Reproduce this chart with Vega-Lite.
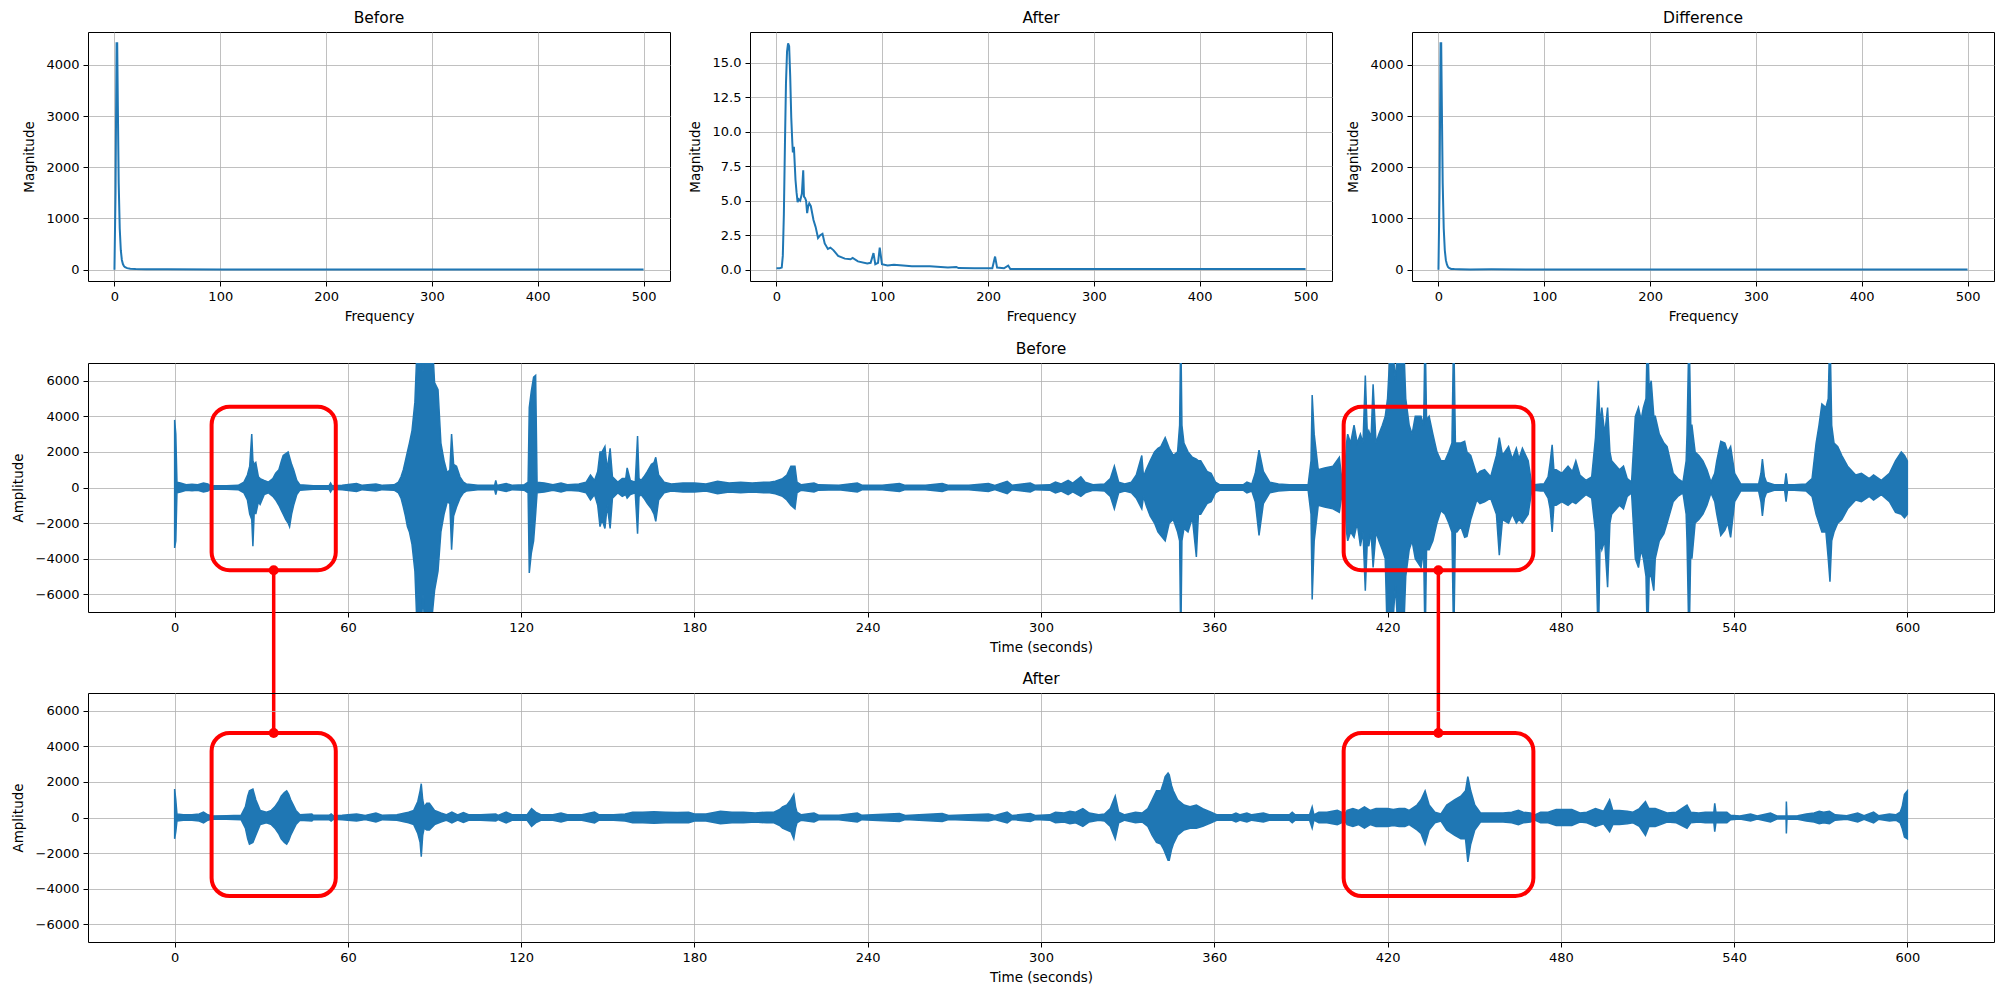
{
"$schema": "https://vega.github.io/schema/vega-lite/v6.json",
"padding": {"left": 10, "top": 10, "right": 5, "bottom": 5},
"background": "white",
"datasets": {
"beforeFFT": [{"f":0,"m":0},{"f":1,"m":1500},{"f":2,"m":4420},{"f":2.6,"m":4420},{"f":3.2,"m":3200},{"f":4,"m":1700},{"f":5,"m":800},{"f":6,"m":380},{"f":7,"m":190},{"f":8,"m":110},{"f":9,"m":70},{"f":10,"m":50},{"f":12,"m":30},{"f":15,"m":20},{"f":20,"m":14},{"f":30,"m":10},{"f":50,"m":8},{"f":100,"m":6},{"f":200,"m":4},{"f":300,"m":3},{"f":400,"m":3},{"f":500,"m":3}],
"afterFFT": [{"f":0,"m":0.1},{"f":3,"m":0.1},{"f":5,"m":0.15},{"f":6,"m":1.0},{"f":7,"m":4},{"f":8,"m":9},{"f":9,"m":13.5},{"f":10,"m":15.8},{"f":11,"m":16.4},{"f":12,"m":16.2},{"f":13,"m":14},{"f":14,"m":11},{"f":15,"m":9.2},{"f":15.5,"m":8.5},{"f":16.5,"m":8.9},{"f":18,"m":6.5},{"f":19,"m":5.6},{"f":20,"m":4.9},{"f":21,"m":5.1},{"f":22.4,"m":5.0},{"f":24,"m":5.5},{"f":25.3,"m":7.2},{"f":26,"m":5.3},{"f":27,"m":5.2},{"f":28,"m":5.0},{"f":29,"m":4.1},{"f":30,"m":4.6},{"f":31,"m":4.8},{"f":32.5,"m":4.6},{"f":35,"m":3.6},{"f":37,"m":3.1},{"f":39.3,"m":2.3},{"f":41.4,"m":2.5},{"f":43.5,"m":2.6},{"f":45.6,"m":1.9},{"f":48.6,"m":1.5},{"f":51,"m":1.6},{"f":54,"m":1.4},{"f":58.3,"m":1.0},{"f":64.6,"m":0.8},{"f":70,"m":0.75},{"f":72,"m":0.85},{"f":77,"m":0.6},{"f":85.8,"m":0.45},{"f":89,"m":0.5},{"f":91.7,"m":1.2},{"f":93.4,"m":0.4},{"f":96,"m":0.5},{"f":97.6,"m":1.6},{"f":99.7,"m":0.4},{"f":105,"m":0.3},{"f":111,"m":0.35},{"f":119.6,"m":0.3},{"f":128,"m":0.25},{"f":145,"m":0.25},{"f":162,"m":0.15},{"f":170,"m":0.2},{"f":172,"m":0.12},{"f":187,"m":0.1},{"f":204,"m":0.1},{"f":206.6,"m":0.95},{"f":208.5,"m":0.15},{"f":215,"m":0.1},{"f":219,"m":0.3},{"f":221,"m":0.05},{"f":250,"m":0.05},{"f":300,"m":0.05},{"f":500,"m":0.05}],
"diffFFT": [{"f":0,"m":0},{"f":1,"m":1500},{"f":2,"m":4420},{"f":2.6,"m":4420},{"f":3.2,"m":3200},{"f":4,"m":1700},{"f":5,"m":800},{"f":6,"m":379},{"f":7,"m":186},{"f":8,"m":101},{"f":9,"m":56},{"f":10,"m":34},{"f":12,"m":14},{"f":15,"m":11},{"f":20,"m":9},{"f":30,"m":5.4},{"f":50,"m":6.4},{"f":100,"m":5.6},{"f":200,"m":3.9},{"f":300,"m":3},{"f":400,"m":3},{"f":500,"m":3}],
"beforeWave": [{"t":0,"lo":-3400,"hi":3800},{"t":0.4,"lo":-3000,"hi":3000},{"t":0.8,"lo":-300,"hi":300},{"t":2,"lo":-250,"hi":250},{"t":4,"lo":-150,"hi":150},{"t":6,"lo":-180,"hi":180},{"t":8,"lo":-150,"hi":150},{"t":10,"lo":-250,"hi":250},{"t":11.5,"lo":-200,"hi":200},{"t":12.5,"lo":-80,"hi":80},{"t":14,"lo":-100,"hi":100},{"t":18,"lo":-100,"hi":100},{"t":22,"lo":-120,"hi":120},{"t":24,"lo":-300,"hi":300},{"t":25.2,"lo":-700,"hi":700},{"t":26,"lo":-1500,"hi":1200},{"t":26.7,"lo":-1800,"hi":3000},{"t":27.1,"lo":-3300,"hi":1500},{"t":27.6,"lo":-1200,"hi":1300},{"t":28.1,"lo":-1500,"hi":1400},{"t":29,"lo":-800,"hi":600},{"t":29.6,"lo":-950,"hi":500},{"t":31,"lo":-400,"hi":400},{"t":32.5,"lo":-300,"hi":300},{"t":34,"lo":-500,"hi":500},{"t":35,"lo":-700,"hi":800},{"t":36.1,"lo":-1000,"hi":1000},{"t":37,"lo":-1300,"hi":1500},{"t":37.6,"lo":-1500,"hi":1800},{"t":38.5,"lo":-1800,"hi":1900},{"t":39.3,"lo":-2000,"hi":2000},{"t":39.8,"lo":-2200,"hi":1700},{"t":40.5,"lo":-1500,"hi":1300},{"t":41.2,"lo":-1000,"hi":1000},{"t":42.3,"lo":-400,"hi":400},{"t":43.4,"lo":-150,"hi":150},{"t":48,"lo":-100,"hi":100},{"t":53.5,"lo":-100,"hi":100},{"t":54,"lo":-250,"hi":250},{"t":54.5,"lo":-100,"hi":100},{"t":58,"lo":-120,"hi":120},{"t":63,"lo":-220,"hi":220},{"t":65,"lo":-120,"hi":120},{"t":69.7,"lo":-200,"hi":200},{"t":72,"lo":-120,"hi":120},{"t":76,"lo":-150,"hi":150},{"t":77.5,"lo":-300,"hi":300},{"t":78.4,"lo":-600,"hi":600},{"t":79.2,"lo":-1100,"hi":1000},{"t":79.9,"lo":-1600,"hi":1500},{"t":80.6,"lo":-2200,"hi":2000},{"t":81.3,"lo":-2500,"hi":2500},{"t":82.2,"lo":-3200,"hi":3200},{"t":83.2,"lo":-4700,"hi":4800},{"t":84.2,"lo":-9000,"hi":9000},{"t":85,"lo":-9000,"hi":9000},{"t":86,"lo":-6000,"hi":6500},{"t":87,"lo":-9000,"hi":9000},{"t":88,"lo":-9000,"hi":9000},{"t":89,"lo":-7500,"hi":9000},{"t":90,"lo":-5800,"hi":5900},{"t":91.2,"lo":-4700,"hi":5500},{"t":92.2,"lo":-2500,"hi":2500},{"t":93.3,"lo":-1500,"hi":1500},{"t":94.4,"lo":-800,"hi":800},{"t":95.3,"lo":-900,"hi":1000},{"t":95.9,"lo":-3500,"hi":3000},{"t":96.6,"lo":-1600,"hi":1300},{"t":97.6,"lo":-1100,"hi":1200},{"t":98.8,"lo":-600,"hi":600},{"t":100,"lo":-300,"hi":300},{"t":101,"lo":-200,"hi":200},{"t":105,"lo":-120,"hi":120},{"t":110.8,"lo":-120,"hi":120},{"t":111.2,"lo":-400,"hi":400},{"t":111.6,"lo":-120,"hi":120},{"t":114.8,"lo":-220,"hi":220},{"t":117,"lo":-120,"hi":120},{"t":121,"lo":-150,"hi":150},{"t":122.4,"lo":-300,"hi":300},{"t":122.8,"lo":-4800,"hi":4500},{"t":123.5,"lo":-3700,"hi":5400},{"t":124.3,"lo":-3000,"hi":6200},{"t":125,"lo":-1500,"hi":6300},{"t":125.5,"lo":-300,"hi":300},{"t":128,"lo":-250,"hi":250},{"t":131,"lo":-150,"hi":150},{"t":133.8,"lo":-250,"hi":250},{"t":136,"lo":-150,"hi":150},{"t":140,"lo":-200,"hi":200},{"t":142.5,"lo":-300,"hi":300},{"t":144,"lo":-700,"hi":700},{"t":145.4,"lo":-400,"hi":400},{"t":146.5,"lo":-1000,"hi":900},{"t":147.3,"lo":-2200,"hi":2000},{"t":148,"lo":-1800,"hi":2000},{"t":149,"lo":-2300,"hi":2300},{"t":149.8,"lo":-1000,"hi":1000},{"t":150.8,"lo":-2300,"hi":2200},{"t":151.6,"lo":-600,"hi":600},{"t":153.5,"lo":-300,"hi":300},{"t":155,"lo":-500,"hi":500},{"t":156.2,"lo":-400,"hi":500},{"t":156.7,"lo":-600,"hi":1100},{"t":157.8,"lo":-400,"hi":400},{"t":159.5,"lo":-300,"hi":300},{"t":160.3,"lo":-2600,"hi":2900},{"t":160.8,"lo":-500,"hi":500},{"t":161.5,"lo":-400,"hi":400},{"t":162.5,"lo":-600,"hi":600},{"t":163.7,"lo":-900,"hi":900},{"t":165.1,"lo":-1200,"hi":1300},{"t":166,"lo":-1500,"hi":1400},{"t":166.6,"lo":-1900,"hi":1700},{"t":167.6,"lo":-700,"hi":700},{"t":169.5,"lo":-300,"hi":300},{"t":172,"lo":-200,"hi":200},{"t":176,"lo":-250,"hi":250},{"t":180,"lo":-250,"hi":250},{"t":184,"lo":-200,"hi":200},{"t":188,"lo":-350,"hi":350},{"t":192,"lo":-250,"hi":250},{"t":196,"lo":-300,"hi":300},{"t":200,"lo":-250,"hi":250},{"t":204,"lo":-300,"hi":300},{"t":206,"lo":-300,"hi":300},{"t":208,"lo":-350,"hi":350},{"t":210.5,"lo":-500,"hi":500},{"t":212,"lo":-700,"hi":700},{"t":213.4,"lo":-1000,"hi":1200},{"t":214.8,"lo":-1200,"hi":1200},{"t":215.5,"lo":-300,"hi":300},{"t":217,"lo":-150,"hi":150},{"t":221.4,"lo":-250,"hi":250},{"t":223,"lo":-150,"hi":150},{"t":230,"lo":-130,"hi":130},{"t":236.4,"lo":-250,"hi":250},{"t":238,"lo":-130,"hi":130},{"t":245,"lo":-130,"hi":130},{"t":251,"lo":-220,"hi":220},{"t":253,"lo":-120,"hi":120},{"t":260,"lo":-120,"hi":120},{"t":265.8,"lo":-220,"hi":220},{"t":268,"lo":-120,"hi":120},{"t":275,"lo":-120,"hi":120},{"t":281.8,"lo":-220,"hi":220},{"t":284,"lo":-120,"hi":120},{"t":288.3,"lo":-350,"hi":350},{"t":290,"lo":-120,"hi":120},{"t":296.3,"lo":-250,"hi":250},{"t":298,"lo":-120,"hi":120},{"t":303,"lo":-150,"hi":150},{"t":305,"lo":-300,"hi":300},{"t":307,"lo":-200,"hi":200},{"t":309.4,"lo":-400,"hi":400},{"t":311,"lo":-250,"hi":250},{"t":313.8,"lo":-500,"hi":600},{"t":315.3,"lo":-300,"hi":300},{"t":318,"lo":-150,"hi":150},{"t":322,"lo":-200,"hi":200},{"t":324,"lo":-500,"hi":500},{"t":325.4,"lo":-1200,"hi":1200},{"t":326.9,"lo":-300,"hi":300},{"t":329,"lo":-200,"hi":200},{"t":331.3,"lo":-300,"hi":300},{"t":333,"lo":-600,"hi":700},{"t":334.9,"lo":-1200,"hi":1800},{"t":335.5,"lo":-500,"hi":600},{"t":336.4,"lo":-1000,"hi":1000},{"t":337.8,"lo":-1600,"hi":1500},{"t":339.3,"lo":-2000,"hi":2000},{"t":340.5,"lo":-2500,"hi":2200},{"t":341.5,"lo":-2700,"hi":2300},{"t":343,"lo":-3000,"hi":2800},{"t":344.4,"lo":-2000,"hi":2200},{"t":345.8,"lo":-1800,"hi":1800},{"t":347.3,"lo":-2500,"hi":2000},{"t":348,"lo":-3000,"hi":3500},{"t":348.4,"lo":-9000,"hi":9000},{"t":348.8,"lo":-3000,"hi":3500},{"t":349.5,"lo":-2300,"hi":2500},{"t":350.9,"lo":-2500,"hi":2000},{"t":352.4,"lo":-1700,"hi":1700},{"t":353.8,"lo":-3900,"hi":1600},{"t":354.5,"lo":-1500,"hi":1500},{"t":355.3,"lo":-1500,"hi":1500},{"t":357.5,"lo":-900,"hi":900},{"t":358.9,"lo":-800,"hi":800},{"t":360.4,"lo":-300,"hi":300},{"t":362,"lo":-150,"hi":150},{"t":366,"lo":-150,"hi":150},{"t":370,"lo":-150,"hi":150},{"t":371.3,"lo":-300,"hi":300},{"t":373,"lo":-200,"hi":200},{"t":374.2,"lo":-800,"hi":800},{"t":375.5,"lo":-2700,"hi":2100},{"t":377,"lo":-900,"hi":900},{"t":379.2,"lo":-300,"hi":300},{"t":382.2,"lo":-200,"hi":200},{"t":386,"lo":-150,"hi":150},{"t":392.5,"lo":-150,"hi":150},{"t":393.5,"lo":-1500,"hi":1500},{"t":393.9,"lo":-6300,"hi":5200},{"t":394.6,"lo":-3000,"hi":3000},{"t":396,"lo":-1000,"hi":1000},{"t":398.2,"lo":-1100,"hi":1100},{"t":401.1,"lo":-1200,"hi":1200},{"t":403.3,"lo":-1400,"hi":1700},{"t":404.2,"lo":-400,"hi":400},{"t":405,"lo":-300,"hi":300},{"t":405.8,"lo":-2500,"hi":2500},{"t":406.2,"lo":-3000,"hi":3000},{"t":407.2,"lo":-2500,"hi":2500},{"t":408.4,"lo":-2800,"hi":3500},{"t":409.5,"lo":-2000,"hi":2500},{"t":410.6,"lo":-3300,"hi":3000},{"t":411.5,"lo":-2500,"hi":2500},{"t":412.3,"lo":-5800,"hi":6300},{"t":413,"lo":-3000,"hi":3000},{"t":413.5,"lo":-3300,"hi":3200},{"t":414.3,"lo":-2500,"hi":2800},{"t":415,"lo":-4500,"hi":5800},{"t":416,"lo":-2500,"hi":2500},{"t":417,"lo":-3000,"hi":3000},{"t":418.2,"lo":-3500,"hi":3500},{"t":419.2,"lo":-4000,"hi":4000},{"t":420,"lo":-9000,"hi":5000},{"t":421.3,"lo":-9000,"hi":9000},{"t":422.7,"lo":-5500,"hi":6000},{"t":424,"lo":-9000,"hi":9000},{"t":425.4,"lo":-9000,"hi":9000},{"t":426.3,"lo":-5000,"hi":5000},{"t":427.5,"lo":-3500,"hi":3500},{"t":428.5,"lo":-3000,"hi":3000},{"t":429.6,"lo":-4000,"hi":4000},{"t":431.6,"lo":-4500,"hi":4000},{"t":432.5,"lo":-3500,"hi":3500},{"t":433,"lo":-9000,"hi":9000},{"t":433.5,"lo":-3500,"hi":3800},{"t":434.4,"lo":-3500,"hi":4000},{"t":435.7,"lo":-3000,"hi":3000},{"t":437.1,"lo":-2000,"hi":2000},{"t":438.5,"lo":-1300,"hi":1500},{"t":439.9,"lo":-1500,"hi":1500},{"t":441.2,"lo":-2000,"hi":2000},{"t":442.3,"lo":-2500,"hi":2500},{"t":442.9,"lo":-9000,"hi":9000},{"t":443.5,"lo":-2500,"hi":2500},{"t":444,"lo":-2500,"hi":2500},{"t":445.4,"lo":-2200,"hi":2500},{"t":446.7,"lo":-2800,"hi":2600},{"t":447.5,"lo":-2750,"hi":2000},{"t":448.8,"lo":-1800,"hi":1800},{"t":450.9,"lo":-700,"hi":700},{"t":452,"lo":-900,"hi":900},{"t":453.6,"lo":-800,"hi":1000},{"t":455.7,"lo":-600,"hi":600},{"t":457.7,"lo":-1500,"hi":1800},{"t":458.7,"lo":-3800,"hi":2800},{"t":459.8,"lo":-1800,"hi":1800},{"t":461.9,"lo":-2000,"hi":2300},{"t":463.2,"lo":-1500,"hi":1600},{"t":464.6,"lo":-2000,"hi":2200},{"t":465.5,"lo":-1800,"hi":1600},{"t":466.7,"lo":-2000,"hi":2200},{"t":468.7,"lo":-1500,"hi":1500},{"t":469.8,"lo":-300,"hi":300},{"t":470.8,"lo":-150,"hi":150},{"t":473,"lo":-200,"hi":200},{"t":474.2,"lo":-200,"hi":200},{"t":475.6,"lo":-600,"hi":600},{"t":476.3,"lo":-1200,"hi":1400},{"t":477,"lo":-2500,"hi":2400},{"t":477.6,"lo":-1000,"hi":1000},{"t":478.4,"lo":-1000,"hi":1000},{"t":480.4,"lo":-800,"hi":800},{"t":482.5,"lo":-1000,"hi":1200},{"t":484,"lo":-800,"hi":900},{"t":485.2,"lo":-900,"hi":1500},{"t":486.6,"lo":-700,"hi":700},{"t":488.7,"lo":-400,"hi":400},{"t":490.7,"lo":-600,"hi":600},{"t":492,"lo":-2500,"hi":2800},{"t":493,"lo":-9000,"hi":6000},{"t":493.6,"lo":-3000,"hi":3500},{"t":494.2,"lo":-3500,"hi":4500},{"t":495.2,"lo":-3000,"hi":3000},{"t":496.2,"lo":-5600,"hi":4500},{"t":497,"lo":-2000,"hi":2000},{"t":497.6,"lo":-1500,"hi":1500},{"t":500.3,"lo":-1000,"hi":1000},{"t":501.7,"lo":-1200,"hi":1200},{"t":503,"lo":-500,"hi":500},{"t":504.5,"lo":-300,"hi":300},{"t":505.8,"lo":-4000,"hi":4000},{"t":506.9,"lo":-4500,"hi":4500},{"t":507.8,"lo":-3500,"hi":3800},{"t":508.6,"lo":-4000,"hi":4500},{"t":509.5,"lo":-5000,"hi":5000},{"t":510,"lo":-9000,"hi":9000},{"t":510.6,"lo":-5000,"hi":5500},{"t":511.3,"lo":-5000,"hi":6000},{"t":512.2,"lo":-5800,"hi":4000},{"t":512.7,"lo":-4000,"hi":4000},{"t":514.1,"lo":-3000,"hi":3000},{"t":515.7,"lo":-2600,"hi":2500},{"t":516.8,"lo":-2000,"hi":2300},{"t":518.9,"lo":-800,"hi":800},{"t":520.5,"lo":-500,"hi":500},{"t":522.3,"lo":-300,"hi":300},{"t":523.4,"lo":-1500,"hi":1500},{"t":523.7,"lo":-3000,"hi":3000},{"t":524.4,"lo":-9000,"hi":9000},{"t":525,"lo":-3500,"hi":3500},{"t":525.4,"lo":-4000,"hi":3500},{"t":526.5,"lo":-2000,"hi":2000},{"t":527.8,"lo":-1800,"hi":1800},{"t":529.2,"lo":-1500,"hi":1500},{"t":530.6,"lo":-1000,"hi":1000},{"t":532,"lo":-300,"hi":300},{"t":533.3,"lo":-800,"hi":800},{"t":534,"lo":-1500,"hi":1500},{"t":535.4,"lo":-2700,"hi":2600},{"t":536.8,"lo":-2400,"hi":2500},{"t":537.8,"lo":-2000,"hi":2000},{"t":538.8,"lo":-2800,"hi":2300},{"t":540.2,"lo":-800,"hi":800},{"t":542.3,"lo":-200,"hi":200},{"t":546,"lo":-200,"hi":200},{"t":548.5,"lo":-200,"hi":200},{"t":549.3,"lo":-800,"hi":800},{"t":549.8,"lo":-1600,"hi":1600},{"t":550.5,"lo":-600,"hi":600},{"t":551.2,"lo":-300,"hi":300},{"t":553.9,"lo":-150,"hi":150},{"t":557.5,"lo":-150,"hi":150},{"t":558,"lo":-800,"hi":800},{"t":558.5,"lo":-150,"hi":150},{"t":560.8,"lo":-150,"hi":150},{"t":564.9,"lo":-200,"hi":200},{"t":567,"lo":-500,"hi":500},{"t":568.4,"lo":-1500,"hi":2500},{"t":569.4,"lo":-2000,"hi":3500},{"t":570.4,"lo":-2500,"hi":4700},{"t":571.8,"lo":-2500,"hi":4500},{"t":572.6,"lo":-4000,"hi":5000},{"t":573.2,"lo":-5300,"hi":9000},{"t":573.8,"lo":-3000,"hi":3500},{"t":574.6,"lo":-2500,"hi":2500},{"t":575.9,"lo":-2000,"hi":2300},{"t":577.3,"lo":-1800,"hi":1800},{"t":579.3,"lo":-1200,"hi":1200},{"t":582.1,"lo":-700,"hi":700},{"t":584.1,"lo":-800,"hi":800},{"t":586.8,"lo":-500,"hi":500},{"t":588.3,"lo":-700,"hi":700},{"t":591,"lo":-400,"hi":400},{"t":593.8,"lo":-800,"hi":800},{"t":595.9,"lo":-1400,"hi":1500},{"t":597.9,"lo":-1500,"hi":2000},{"t":599,"lo":-1700,"hi":1800},{"t":600,"lo":-1500,"hi":1500}],
"afterWave": [{"t":0,"lo":-1200,"hi":1600},{"t":0.4,"lo":-800,"hi":1000},{"t":0.8,"lo":-200,"hi":200},{"t":3,"lo":-150,"hi":150},{"t":6,"lo":-150,"hi":150},{"t":8.5,"lo":-200,"hi":200},{"t":10,"lo":-300,"hi":300},{"t":11.5,"lo":-150,"hi":150},{"t":13,"lo":-80,"hi":80},{"t":18,"lo":-100,"hi":100},{"t":23,"lo":-120,"hi":120},{"t":24.5,"lo":-600,"hi":600},{"t":25.3,"lo":-1200,"hi":1200},{"t":25.9,"lo":-1500,"hi":1500},{"t":27.1,"lo":-1400,"hi":1600},{"t":28.1,"lo":-1000,"hi":1000},{"t":29.6,"lo":-400,"hi":400},{"t":31.8,"lo":-300,"hi":300},{"t":33.5,"lo":-400,"hi":400},{"t":34.7,"lo":-600,"hi":600},{"t":36,"lo":-900,"hi":900},{"t":36.9,"lo":-1200,"hi":1200},{"t":38,"lo":-1400,"hi":1400},{"t":38.8,"lo":-1500,"hi":1500},{"t":39.5,"lo":-1300,"hi":1300},{"t":40.2,"lo":-1000,"hi":1000},{"t":42,"lo":-400,"hi":400},{"t":43.4,"lo":-150,"hi":150},{"t":47.5,"lo":-200,"hi":200},{"t":48,"lo":-120,"hi":120},{"t":53.5,"lo":-120,"hi":120},{"t":54.2,"lo":-200,"hi":200},{"t":55,"lo":-100,"hi":100},{"t":58,"lo":-120,"hi":120},{"t":63,"lo":-200,"hi":200},{"t":66,"lo":-120,"hi":120},{"t":69.7,"lo":-250,"hi":250},{"t":72,"lo":-120,"hi":120},{"t":77,"lo":-150,"hi":150},{"t":81,"lo":-300,"hi":300},{"t":82.8,"lo":-400,"hi":400},{"t":84.2,"lo":-900,"hi":900},{"t":85,"lo":-1400,"hi":1500},{"t":85.4,"lo":-2200,"hi":1900},{"t":85.9,"lo":-1000,"hi":1000},{"t":86.4,"lo":-600,"hi":600},{"t":87.3,"lo":-700,"hi":800},{"t":88.2,"lo":-700,"hi":800},{"t":90,"lo":-400,"hi":400},{"t":92.2,"lo":-250,"hi":250},{"t":94,"lo":-150,"hi":150},{"t":96,"lo":-300,"hi":300},{"t":98,"lo":-150,"hi":150},{"t":100,"lo":-280,"hi":280},{"t":102,"lo":-150,"hi":150},{"t":106,"lo":-150,"hi":150},{"t":111.2,"lo":-200,"hi":200},{"t":112,"lo":-120,"hi":120},{"t":114.8,"lo":-300,"hi":300},{"t":117,"lo":-150,"hi":150},{"t":122,"lo":-150,"hi":150},{"t":123.6,"lo":-500,"hi":500},{"t":125,"lo":-300,"hi":300},{"t":127,"lo":-150,"hi":150},{"t":131,"lo":-150,"hi":150},{"t":133.8,"lo":-250,"hi":250},{"t":136,"lo":-150,"hi":150},{"t":141,"lo":-150,"hi":150},{"t":145.4,"lo":-300,"hi":300},{"t":147,"lo":-150,"hi":150},{"t":152,"lo":-150,"hi":150},{"t":156,"lo":-200,"hi":200},{"t":158.6,"lo":-300,"hi":300},{"t":162,"lo":-300,"hi":300},{"t":166,"lo":-330,"hi":330},{"t":170,"lo":-300,"hi":300},{"t":174,"lo":-280,"hi":280},{"t":178,"lo":-300,"hi":300},{"t":180,"lo":-200,"hi":200},{"t":184,"lo":-200,"hi":200},{"t":189,"lo":-350,"hi":350},{"t":193,"lo":-300,"hi":300},{"t":197,"lo":-300,"hi":300},{"t":201,"lo":-250,"hi":250},{"t":205,"lo":-300,"hi":300},{"t":207.5,"lo":-300,"hi":300},{"t":209.5,"lo":-450,"hi":450},{"t":210.5,"lo":-600,"hi":600},{"t":212,"lo":-700,"hi":700},{"t":213.4,"lo":-800,"hi":1000},{"t":214.4,"lo":-1200,"hi":1300},{"t":215,"lo":-600,"hi":600},{"t":215.5,"lo":-300,"hi":300},{"t":217,"lo":-150,"hi":150},{"t":221.4,"lo":-250,"hi":250},{"t":223,"lo":-130,"hi":130},{"t":230,"lo":-120,"hi":120},{"t":236.4,"lo":-250,"hi":250},{"t":238,"lo":-120,"hi":120},{"t":251,"lo":-220,"hi":220},{"t":253,"lo":-110,"hi":110},{"t":265.8,"lo":-220,"hi":220},{"t":268,"lo":-110,"hi":110},{"t":281.8,"lo":-200,"hi":200},{"t":284,"lo":-110,"hi":110},{"t":288.3,"lo":-300,"hi":300},{"t":290,"lo":-110,"hi":110},{"t":296.3,"lo":-220,"hi":220},{"t":298,"lo":-110,"hi":110},{"t":303,"lo":-150,"hi":150},{"t":305,"lo":-300,"hi":300},{"t":308,"lo":-250,"hi":250},{"t":310,"lo":-350,"hi":350},{"t":312,"lo":-300,"hi":300},{"t":314.5,"lo":-500,"hi":500},{"t":316.7,"lo":-250,"hi":250},{"t":320,"lo":-150,"hi":150},{"t":322,"lo":-200,"hi":200},{"t":324,"lo":-500,"hi":500},{"t":325.7,"lo":-1200,"hi":1200},{"t":326.9,"lo":-300,"hi":300},{"t":329,"lo":-150,"hi":150},{"t":332.7,"lo":-300,"hi":300},{"t":335,"lo":-250,"hi":250},{"t":337,"lo":-500,"hi":500},{"t":338.5,"lo":-1000,"hi":1000},{"t":340,"lo":-1400,"hi":1500},{"t":341.5,"lo":-1500,"hi":1500},{"t":342.5,"lo":-1800,"hi":2000},{"t":343,"lo":-2000,"hi":2300},{"t":344,"lo":-2400,"hi":2500},{"t":344.4,"lo":-2400,"hi":2400},{"t":345.2,"lo":-1800,"hi":1800},{"t":345.8,"lo":-1500,"hi":1500},{"t":347.3,"lo":-1000,"hi":1000},{"t":349.5,"lo":-700,"hi":700},{"t":351.6,"lo":-600,"hi":600},{"t":353.8,"lo":-600,"hi":700},{"t":356,"lo":-500,"hi":500},{"t":358.9,"lo":-300,"hi":300},{"t":361,"lo":-150,"hi":150},{"t":366,"lo":-150,"hi":150},{"t":367.5,"lo":-250,"hi":250},{"t":369,"lo":-150,"hi":150},{"t":371.3,"lo":-250,"hi":250},{"t":373,"lo":-150,"hi":150},{"t":377,"lo":-250,"hi":250},{"t":379,"lo":-150,"hi":150},{"t":386,"lo":-150,"hi":150},{"t":387,"lo":-300,"hi":300},{"t":388,"lo":-150,"hi":150},{"t":393,"lo":-150,"hi":150},{"t":393.9,"lo":-600,"hi":600},{"t":394.5,"lo":-150,"hi":150},{"t":396.2,"lo":-300,"hi":300},{"t":399,"lo":-300,"hi":300},{"t":402.6,"lo":-400,"hi":400},{"t":404,"lo":-300,"hi":300},{"t":405,"lo":-150,"hi":150},{"t":406,"lo":-400,"hi":400},{"t":408,"lo":-500,"hi":500},{"t":410,"lo":-400,"hi":400},{"t":412,"lo":-600,"hi":600},{"t":414,"lo":-400,"hi":400},{"t":416,"lo":-500,"hi":500},{"t":418,"lo":-500,"hi":500},{"t":420,"lo":-500,"hi":500},{"t":422,"lo":-450,"hi":450},{"t":424,"lo":-500,"hi":500},{"t":426,"lo":-500,"hi":500},{"t":427.5,"lo":-400,"hi":400},{"t":430.2,"lo":-700,"hi":700},{"t":431.6,"lo":-900,"hi":1000},{"t":433,"lo":-1500,"hi":1500},{"t":434.4,"lo":-700,"hi":700},{"t":436.4,"lo":-300,"hi":300},{"t":438.5,"lo":-200,"hi":200},{"t":440.5,"lo":-700,"hi":700},{"t":443.3,"lo":-1000,"hi":1000},{"t":445.4,"lo":-1200,"hi":1200},{"t":447,"lo":-1200,"hi":1500},{"t":447.8,"lo":-2500,"hi":2300},{"t":448.8,"lo":-1500,"hi":1500},{"t":450.2,"lo":-700,"hi":700},{"t":452.2,"lo":-250,"hi":250},{"t":456.4,"lo":-250,"hi":250},{"t":460,"lo":-250,"hi":250},{"t":463,"lo":-300,"hi":300},{"t":465.3,"lo":-400,"hi":400},{"t":467,"lo":-300,"hi":300},{"t":469.5,"lo":-250,"hi":250},{"t":471,"lo":-150,"hi":150},{"t":473,"lo":-300,"hi":300},{"t":475.6,"lo":-300,"hi":300},{"t":478.4,"lo":-450,"hi":450},{"t":481,"lo":-450,"hi":450},{"t":483.8,"lo":-450,"hi":450},{"t":486.6,"lo":-250,"hi":250},{"t":489,"lo":-300,"hi":300},{"t":492,"lo":-500,"hi":500},{"t":494.8,"lo":-350,"hi":350},{"t":496.9,"lo":-800,"hi":1000},{"t":498,"lo":-400,"hi":400},{"t":500.3,"lo":-400,"hi":400},{"t":503,"lo":-350,"hi":350},{"t":505,"lo":-300,"hi":300},{"t":507.2,"lo":-500,"hi":500},{"t":509.3,"lo":-1000,"hi":900},{"t":510.5,"lo":-500,"hi":500},{"t":512.7,"lo":-500,"hi":500},{"t":514.5,"lo":-400,"hi":400},{"t":516.8,"lo":-250,"hi":250},{"t":520,"lo":-300,"hi":300},{"t":523.7,"lo":-600,"hi":700},{"t":525,"lo":-300,"hi":300},{"t":527.8,"lo":-250,"hi":250},{"t":530,"lo":-300,"hi":300},{"t":533,"lo":-300,"hi":300},{"t":533.3,"lo":-800,"hi":800},{"t":533.7,"lo":-300,"hi":300},{"t":536,"lo":-300,"hi":300},{"t":537.5,"lo":-300,"hi":300},{"t":538.8,"lo":-120,"hi":120},{"t":542,"lo":-80,"hi":80},{"t":545.7,"lo":-200,"hi":200},{"t":548,"lo":-80,"hi":80},{"t":552.6,"lo":-250,"hi":250},{"t":555,"lo":-80,"hi":80},{"t":558,"lo":-80,"hi":80},{"t":558.1,"lo":-900,"hi":900},{"t":558.3,"lo":-80,"hi":80},{"t":562,"lo":-100,"hi":100},{"t":565,"lo":-200,"hi":200},{"t":567.7,"lo":-250,"hi":250},{"t":569.5,"lo":-350,"hi":350},{"t":571,"lo":-300,"hi":300},{"t":573,"lo":-350,"hi":350},{"t":575,"lo":-150,"hi":150},{"t":579,"lo":-100,"hi":100},{"t":582.8,"lo":-250,"hi":250},{"t":585,"lo":-100,"hi":100},{"t":588.3,"lo":-300,"hi":300},{"t":590,"lo":-100,"hi":100},{"t":593.8,"lo":-200,"hi":200},{"t":596,"lo":-150,"hi":150},{"t":597.5,"lo":-300,"hi":300},{"t":598.2,"lo":-600,"hi":600},{"t":599,"lo":-1100,"hi":1300},{"t":600,"lo":-1200,"hi":1500}],
"boxesBefore": [{"x1":12.8,"x2":55.8,"y1":-4650,"y2":4545},{"x1":404.8,"x2":470.5,"y1":-4650,"y2":4545}],
"boxesAfter": [{"x1":12.8,"x2":55.8,"y1":-4416,"y2":4754},{"x1":404.8,"x2":470.5,"y1":-4416,"y2":4754}],
"connectors": [{"t":34.3,"top":-4650,"bottom":-13800},{"t":437.6,"top":-4650,"bottom":-13800}],
"dotsBefore": [{"t":34.3,"y":-4650},{"t":437.6,"y":-4650}],
"dotsAfter": [{"t":34.3,"y":4754},{"t":437.6,"y":4754}]
},
"spacing": 18,
"vconcat": [
{
"bounds": "flush",
"spacing": 80,
"hconcat": [
{"width": 582, "height": 249, "title": "Before", "data": {"name": "beforeFFT"},
 "mark": {"type": "line", "color": "#1f77b4", "strokeWidth": 2, "clip": true},
 "encoding": {
  "x": {"field": "f", "type": "quantitative", "scale": {"domain": [-25, 525], "nice": false, "zero": false}, "axis": {"title": "Frequency", "values": [0,100,200,300,400,500]}},
  "y": {"field": "m", "type": "quantitative", "scale": {"domain": [-221, 4641], "nice": false, "zero": false}, "axis": {"title": "Magnitude", "values": [0,1000,2000,3000,4000], "format": "d", "minExtent": 42, "maxExtent": 42}}
 }},
{"width": 582, "height": 249, "title": "After", "data": {"name": "afterFFT"},
 "mark": {"type": "line", "color": "#1f77b4", "strokeWidth": 2, "clip": true},
 "encoding": {
  "x": {"field": "f", "type": "quantitative", "scale": {"domain": [-25, 525], "nice": false, "zero": false}, "axis": {"title": "Frequency", "values": [0,100,200,300,400,500]}},
  "y": {"field": "m", "type": "quantitative", "scale": {"domain": [-0.82, 17.22], "nice": false, "zero": false}, "axis": {"title": "Magnitude", "values": [0,2.5,5,7.5,10,12.5,15], "format": ".1f", "minExtent": 38, "maxExtent": 38}}
 }},
{"width": 582, "height": 249, "title": "Difference", "data": {"name": "diffFFT"},
 "mark": {"type": "line", "color": "#1f77b4", "strokeWidth": 2, "clip": true},
 "encoding": {
  "x": {"field": "f", "type": "quantitative", "scale": {"domain": [-25, 525], "nice": false, "zero": false}, "axis": {"title": "Frequency", "values": [0,100,200,300,400,500]}},
  "y": {"field": "m", "type": "quantitative", "scale": {"domain": [-221, 4641], "nice": false, "zero": false}, "axis": {"title": "Magnitude", "values": [0,1000,2000,3000,4000], "format": "d", "minExtent": 42, "maxExtent": 42}}
 }}
]
},
{
"bounds": "flush",
"spacing": 81,
"vconcat": [
{"width": 1906, "height": 249, "title": "Before",
 "layer": [
  {"data": {"name": "beforeWave"},
   "mark": {"type": "area", "color": "#1f77b4", "stroke": "#1f77b4", "strokeWidth": 1.5, "clip": true, "opacity": 1},
   "encoding": {
    "x": {"field": "t", "type": "quantitative", "scale": {"domain": [-30, 630], "nice": false, "zero": false}, "axis": {"title": "Time (seconds)", "values": [0,60,120,180,240,300,360,420,480,540,600]}},
    "y": {"field": "lo", "type": "quantitative", "scale": {"domain": [-7000, 7000], "nice": false, "zero": false}, "axis": {"title": "Amplitude", "values": [-6000,-4000,-2000,0,2000,4000,6000], "format": "d"}},
    "y2": {"field": "hi"}
   }},
  {"data": {"name": "boxesBefore"},
   "mark": {"type": "rect", "fillOpacity": 0, "stroke": "red", "strokeWidth": 4, "cornerRadius": 18},
   "encoding": {"x": {"field": "x1", "type": "quantitative"}, "x2": {"field": "x2"}, "y": {"field": "y1", "type": "quantitative"}, "y2": {"field": "y2"}}},
  {"data": {"name": "connectors"},
   "mark": {"type": "rule", "color": "red", "strokeWidth": 3.5},
   "encoding": {"x": {"field": "t", "type": "quantitative"}, "y": {"field": "top", "type": "quantitative"}, "y2": {"field": "bottom"}}},
  {"data": {"name": "dotsBefore"},
   "mark": {"type": "point", "filled": true, "color": "red", "size": 100, "opacity": 1},
   "encoding": {"x": {"field": "t", "type": "quantitative"}, "y": {"field": "y", "type": "quantitative"}}}
 ]},
{"width": 1906, "height": 249, "title": "After",
 "layer": [
  {"data": {"name": "afterWave"},
   "mark": {"type": "area", "color": "#1f77b4", "stroke": "#1f77b4", "strokeWidth": 1.5, "clip": true, "opacity": 1},
   "encoding": {
    "x": {"field": "t", "type": "quantitative", "scale": {"domain": [-30, 630], "nice": false, "zero": false}, "axis": {"title": "Time (seconds)", "values": [0,60,120,180,240,300,360,420,480,540,600]}},
    "y": {"field": "lo", "type": "quantitative", "scale": {"domain": [-7000, 7000], "nice": false, "zero": false}, "axis": {"title": "Amplitude", "values": [-6000,-4000,-2000,0,2000,4000,6000], "format": "d"}},
    "y2": {"field": "hi"}
   }},
  {"data": {"name": "boxesAfter"},
   "mark": {"type": "rect", "fillOpacity": 0, "stroke": "red", "strokeWidth": 4, "cornerRadius": 18},
   "encoding": {"x": {"field": "x1", "type": "quantitative"}, "x2": {"field": "x2"}, "y": {"field": "y1", "type": "quantitative"}, "y2": {"field": "y2"}}},
  {"data": {"name": "dotsAfter"},
   "mark": {"type": "point", "filled": true, "color": "red", "size": 100, "opacity": 1},
   "encoding": {"x": {"field": "t", "type": "quantitative"}, "y": {"field": "y", "type": "quantitative"}}}
 ]}
]
}
],
"config": {
 "font": "DejaVu Sans",
 "view": {"stroke": "black", "strokeWidth": 1},
 "axis": {"labelFont": "DejaVu Sans", "labelFontSize": 13, "labelColor": "black", "titleFont": "DejaVu Sans", "titleFontSize": 13.5, "titleFontWeight": "normal", "titleColor": "black", "tickColor": "black", "tickSize": 5, "domain": false, "gridColor": "#b0b0b0", "gridWidth": 0.8, "gridOpacity": 1, "labelPadding": 4},
 "axisX": {"titlePadding": 6},
 "axisY": {"titlePadding": 10},
 "title": {"font": "DejaVu Sans", "fontSize": 15.5, "fontWeight": "normal", "color": "black", "offset": 6, "anchor": "middle"}
}
}
